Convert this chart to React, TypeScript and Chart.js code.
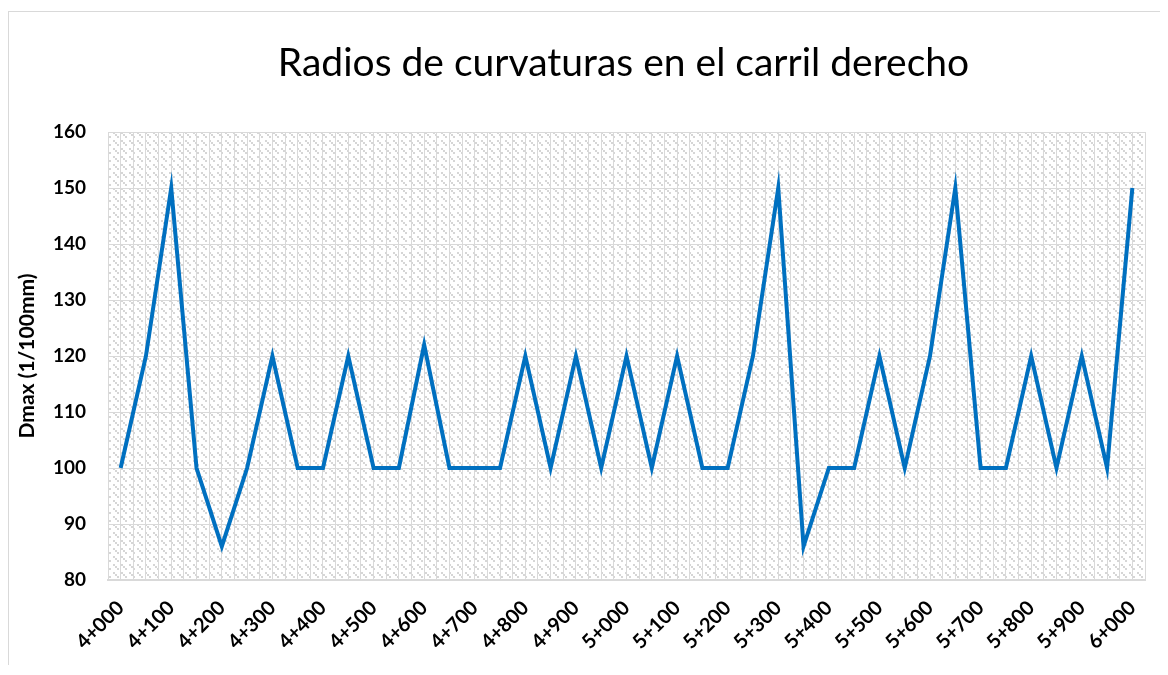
import React, { useEffect, useRef } from "react";
import { Chart, registerables } from "chart.js";

Chart.register(...registerables);

const TITLE = "Radios de curvaturas en el carril derecho";
const Y_TITLE = "Dmax (1/100mm)";

// Stations every 50 m (index i -> 4+000 + 50*i)
const stationLabels: string[] = [
  "4+000", "4+050", "4+100", "4+150", "4+200", "4+250", "4+300", "4+350",
  "4+400", "4+450", "4+500", "4+550", "4+600", "4+650", "4+700", "4+750",
  "4+800", "4+850", "4+900", "4+950", "5+000", "5+050", "5+100", "5+150",
  "5+200", "5+250", "5+300", "5+350", "5+400", "5+450", "5+500", "5+550",
  "5+600", "5+650", "5+700", "5+750", "5+800", "5+850", "5+900", "5+950",
  "6+000",
];

// Labels shown on the axis (every 100 m)
const tickLabels: string[] = [
  "4+000", "4+100", "4+200", "4+300", "4+400", "4+500", "4+600", "4+700",
  "4+800", "4+900", "5+000", "5+100", "5+200", "5+300", "5+400", "5+500",
  "5+600", "5+700", "5+800", "5+900", "6+000",
];

const dmaxValues: number[] = [
  100, 120, 150, 100, 86, 100, 120, 100,
  100, 120, 100, 100, 122, 100, 100, 100,
  120, 100, 120, 100, 120, 100, 120, 100,
  100, 120, 150, 86, 100, 100, 120, 100,
  120, 150, 100, 100, 120, 100, 120, 100,
  150,
];

const yTicks: number[] = [80, 90, 100, 110, 120, 130, 140, 150, 160];

const FONT = "Lato";

function makePattern(): CanvasPattern | string {
  const c = document.createElement("canvas");
  c.width = 8;
  c.height = 8;
  const g = c.getContext("2d");
  if (!g) return "#ffffff";
  g.fillStyle = "#ffffff";
  g.fillRect(0, 0, 8, 8);
  g.fillStyle = "#d6d6d6";
  g.fillRect(0, 0, 2, 2);
  g.fillRect(2, 2, 2, 2);
  g.fillRect(4, 4, 2, 2);
  const p = g.createPattern(c, "repeat");
  return p || "#ffffff";
}

export default function App() {
  const ref = useRef<HTMLCanvasElement | null>(null);

  useEffect(() => {
    if (!ref.current) return;
    const pattern = makePattern();
    const bgPlugin = {
      id: "plotBg",
      beforeDraw(chart: any) {
        const { ctx, chartArea } = chart;
        if (!chartArea) return;
        ctx.save();
        ctx.fillStyle = pattern;
        ctx.fillRect(
          chartArea.left,
          chartArea.top,
          chartArea.right - chartArea.left,
          chartArea.bottom - chartArea.top
        );
        ctx.restore();
      },
    };
    const titlePlugin = {
      id: "plotTitle",
      afterDraw(chart: any) {
        const { ctx, chartArea } = chart;
        if (!chartArea) return;
        ctx.save();
        ctx.fillStyle = "#000000";
        ctx.font = `normal 39px ${FONT}`;
        ctx.textAlign = "center";
        ctx.textBaseline = "alphabetic";
        ctx.fillText(TITLE, (chartArea.left + chartArea.right) / 2 - 3, 64);
        ctx.restore();
      },
    };

    const chart = new Chart(ref.current, {
      type: "line",
      data: {
        datasets: [
          {
            label: Y_TITLE,
            data: dmaxValues.map((v, i) => ({ x: i, y: v })),
            borderColor: "#0070c0",
            backgroundColor: "#0070c0",
            borderWidth: 4,
            pointRadius: 0,
            tension: 0,
          },
        ],
      },
      options: {
        animation: false,
        responsive: false,
        maintainAspectRatio: false,
        layout: { padding: { left: 0, right: 15, top: 120, bottom: 0 } },
        plugins: {
          legend: { display: false },
          tooltip: { enabled: false },
          title: { display: false },
        },
        scales: {
          x: {
            type: "linear",
            min: -0.5,
            max: stationLabels.length - 0.5,
            afterFit(scale: any) {
              scale.height = 87;
              scale.paddingLeft = 0;
              scale.paddingRight = 0;
            },
            ticks: {
              stepSize: 0.5,
              maxTicksLimit: 200,
              autoSkip: false,
              minRotation: 45,
              maxRotation: 45,
              padding: 16,
              color: "#000000",
              font: { family: FONT, size: 20, weight: "bold" },
              callback: (v: any) => {
                const n = Number(v);
                if (Math.abs(n - Math.round(n)) > 1e-6) return "";
                const r = Math.round(n);
                if (r % 2 !== 0) return "";
                return tickLabels[r / 2] ?? "";
              },
            },
            grid: {
              color: "#d9d9d9",
              lineWidth: 1,
              drawTicks: false,
            },
            border: { color: "#d9d9d9", width: 2 },
          },
          y: {
            min: yTicks[0],
            max: yTicks[yTicks.length - 1],
            afterFit(scale: any) {
              scale.width = 99;
              scale.paddingTop = 0;
              scale.paddingBottom = 0;
            },
            ticks: {
              stepSize: 10,
              padding: 22,
              color: "#000000",
              font: { family: FONT, size: 19, weight: "bold" },
            },
            grid: {
              color: "#d9d9d9",
              lineWidth: 1,
              drawTicks: false,
            },
            border: { color: "#d9d9d9", width: 1 },
            title: {
              display: true,
              text: Y_TITLE,
              color: "#000000",
              font: { family: FONT, size: 21, weight: "bold" },
              padding: { top: 6, bottom: 0 },
            },
          },
        },
      },
      plugins: [bgPlugin, titlePlugin],
    });
    return () => chart.destroy();
  }, []);

  return (
    <div
      style={{
        position: "relative",
        top: 3,
        width: 1153,
        height: 657,
        border: "1px solid #d9d9d9",
        boxSizing: "border-box",
        background: "#ffffff",
      }}
    >
      <canvas ref={ref} width={1151} height={655} style={{ display: "block" }} />
    </div>
  );
}
